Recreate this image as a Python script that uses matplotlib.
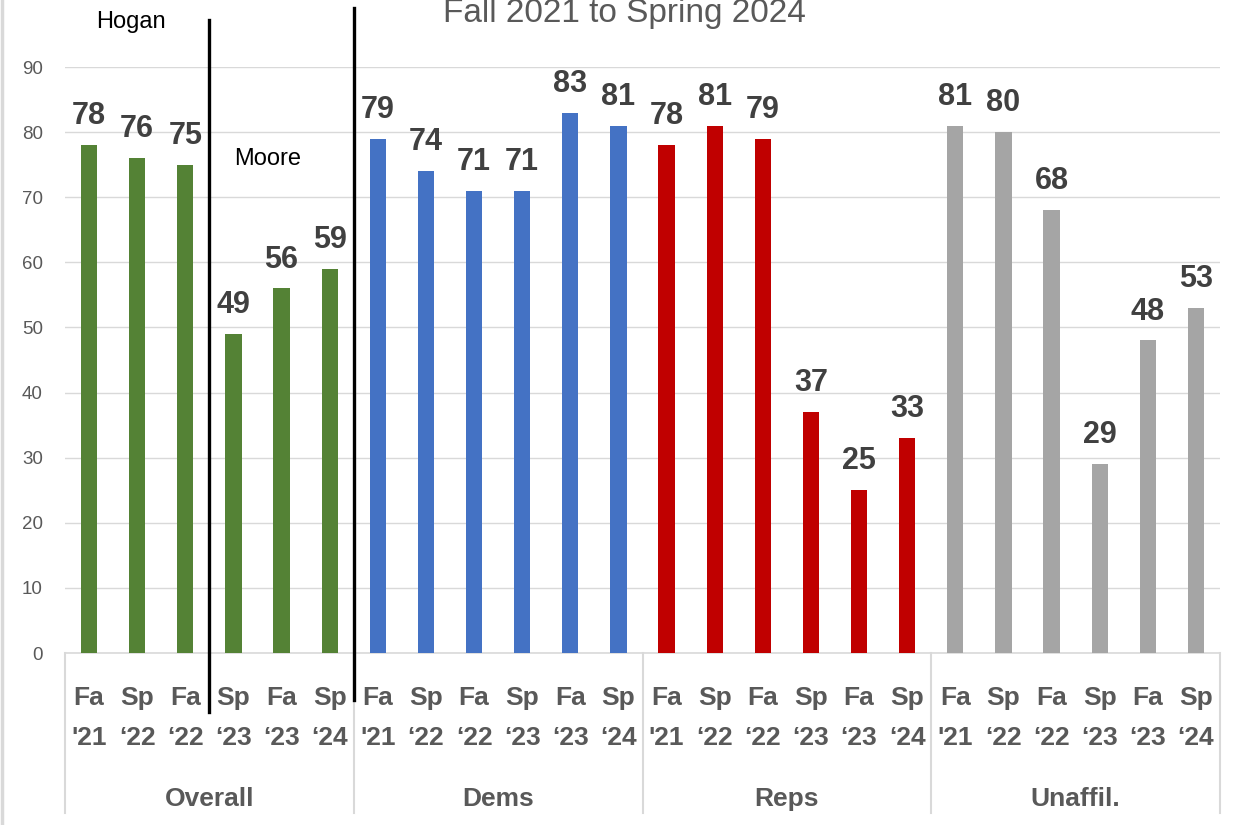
import matplotlib
matplotlib.use("Agg")
import matplotlib.pyplot as plt
from matplotlib.lines import Line2D
import numpy as np

plt.rcParams['font.family'] = ['Liberation Sans', 'DejaVu Sans']

groups = ["Overall", "Dems", "Reps", "Unaffil."]
terms = ["Fa", "Sp", "Fa", "Sp", "Fa", "Sp"]
years = ["'21", "\u201822", "\u201822", "\u201823", "\u201823", "\u201824"]
overall = [78, 76, 75, 49, 56, 59]
dems = [79, 74, 71, 71, 83, 81]
reps = [78, 81, 79, 37, 25, 33]
unaffil = [81, 80, 68, 29, 48, 53]
colors = ["#548235", "#4472C4", "#C00000", "#A5A5A5"]
title = "Fall 2021 to Spring 2024"

series = [overall, dems, reps, unaffil]
n = len(terms)

fig = plt.figure(figsize=(12.44, 8.25), dpi=100)
ax = fig.add_axes([65/1244, 1-653/825, (1220-65)/1244, (653-67)/825])

vals = []
cols = []
for s, c in zip(series, colors):
    vals += s
    cols += [c]*len(s)
x = np.arange(len(vals))
bars = ax.bar(x, vals, width=0.34, color=cols, zorder=3)
for xi, v in zip(x, vals):
    ax.annotate(str(v), (xi, v), xytext=(0, 15), textcoords='offset points',
                ha='center', va='baseline', fontsize=22, fontweight='bold',
                color='#404040', zorder=4)

ax.set_xlim(-0.5, len(vals)-0.5)
ax.set_ylim(0, 90)
ax.set_yticks(range(0, 91, 10))
ax.tick_params(axis='y', length=0, pad=16, labelsize=13.5, labelcolor='#595959')
ax.set_xticks([])
ax.grid(axis='y', color='#D9D9D9', lw=1, zorder=0)
for sp in ['left', 'right', 'top']:
    ax.spines[sp].set_visible(False)
ax.spines['bottom'].set_color('#D9D9D9')
ax.spines['bottom'].set_linewidth(1.2)

tr = ax.get_xaxis_transform()
for i, xi in enumerate(x):
    ax.text(xi, -0.0887, terms[i % n], transform=tr, ha='center', va='baseline',
            fontsize=19, fontweight='bold', color='#595959')
    ax.text(xi, -0.157, years[i % n], transform=tr, ha='center', va='baseline',
            fontsize=19, fontweight='bold', color='#595959')
for g, name in enumerate(groups):
    ax.text(g*n + (n-1)/2, -0.261, name, transform=tr, ha='center', va='baseline',
            fontsize=19, fontweight='bold', color='#595959')
for g in range(len(groups)+1):
    ax.add_line(Line2D([g*n-0.5]*2, [0, -0.273], transform=tr, color='#D9D9D9',
                       lw=1.5, clip_on=False))

# Hogan / Moore dividers
ax.add_line(Line2D([2.5, 2.5], [1.080, -0.1007], transform=tr, color='black',
                   lw=2.4, clip_on=False, zorder=5))
ax.add_line(Line2D([5.5, 5.5], [1.1007, -0.080], transform=tr, color='black',
                   lw=2.4, clip_on=False, zorder=5))
ax.text(0.87, 1.067, "Hogan", transform=tr, ha='center', va='baseline',
        fontsize=17, color='black', clip_on=False)
ax.text(3.72, 75, "Moore", ha='center', va='baseline', fontsize=17, color='black')

fig.text(0.502, 1-22/825, title, ha='center', va='baseline', fontsize=24,
         color='#595959')
fig.add_artist(Line2D([1.5/1244]*2, [0, 1], transform=fig.transFigure,
                      color='#D9D9D9', lw=2.5))

fig.savefig("out.png", dpi=100)
